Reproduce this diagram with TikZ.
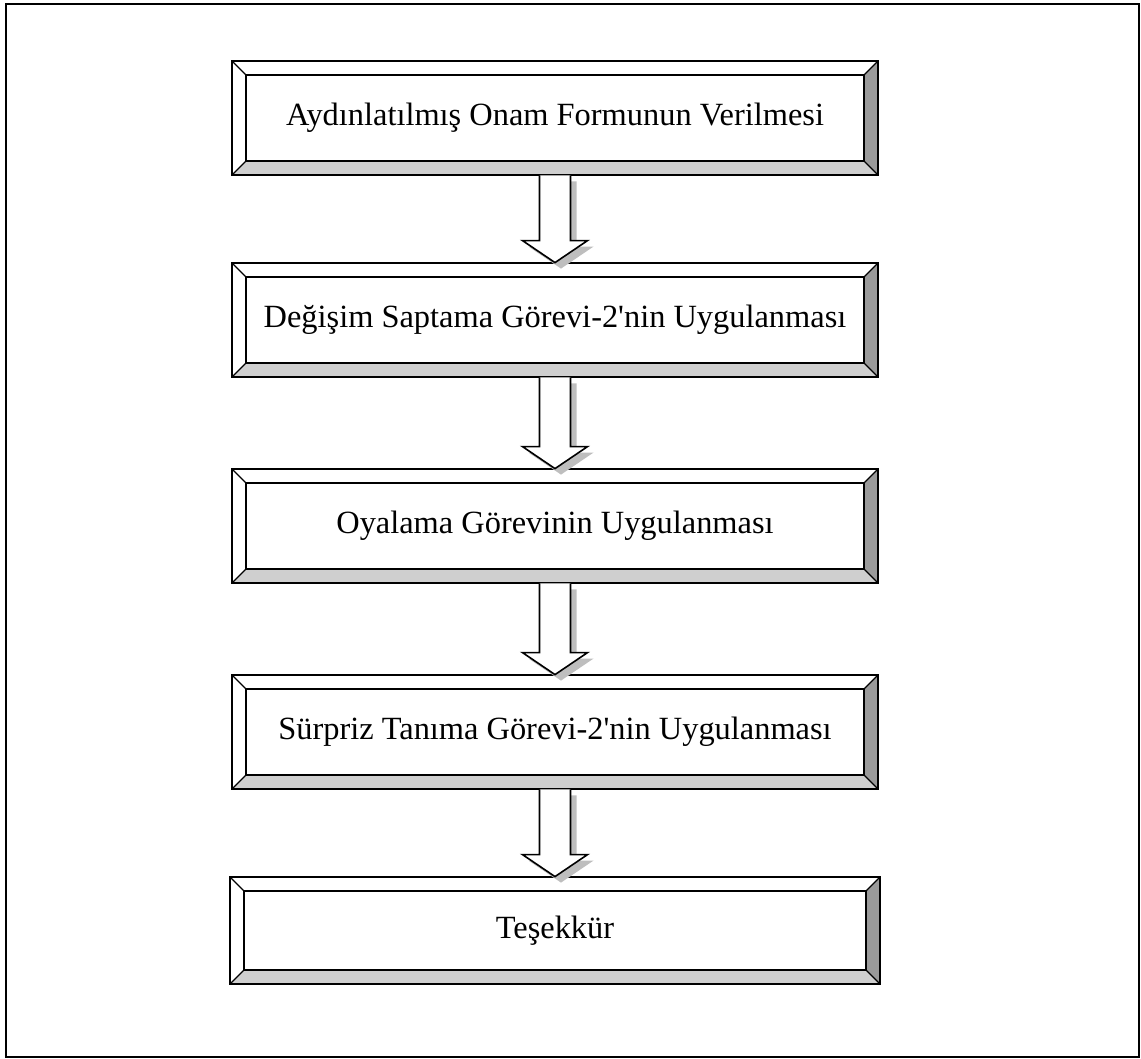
\documentclass[tikz,border=0pt]{standalone}
\usepackage{fontspec}
\setmainfont{Liberation Serif}
\usetikzlibrary{calc}
\definecolor{bevellight}{HTML}{CFCFCF}
\definecolor{beveldark}{HTML}{9A9A9A}
\definecolor{arrowshade}{HTML}{BEBEBE}
\tikzset{
  stage/.style={draw=none, minimum width=323pt, minimum height=57pt,
    inner sep=0pt, font=\fontsize{16.2}{19}\selectfont},
  rim/.style={draw=black, line width=1pt},
  facet/.style={draw=black, line width=0.6pt},
  frame/.style={draw=black, line width=1pt},
  downarrow/.style={fill=white, draw=black, line width=0.8pt, line join=miter},
  downshade/.style={fill=arrowshade, draw=none},
}
\begin{document}
\begin{tikzpicture}[x=0.5pt,y=-0.5pt]
\useasboundingbox (0,0) rectangle (1141,1059);
\draw[frame] (6,4) rectangle (1139,1057);
% five stages, one below the other
\node[stage] (s1) at (555,118) {Aydınlatılmış Onam Formunun Verilmesi};
\node[stage] (s2) at (555,320) {Değişim Saptama Görevi-2\textquotesingle nin Uygulanması};
\node[stage] (s3) at (555,526) {Oyalama Görevinin Uygulanması};
\node[stage] (s4) at (555,732) {Sürpriz Tanıma Görevi-2\textquotesingle nin Uygulanması};
\node[stage, minimum width=325pt, minimum height=53.5pt] (s5) at (555,930.5) {Teşekkür};
% bevelled frames: light bottom, dark right
\foreach \i in {1,...,5}{
  \path (s\i.north west) ++(7pt,-7pt) coordinate (s\i-nw)
        (s\i.north east) ++(-7pt,-7pt) coordinate (s\i-ne)
        (s\i.south east) ++(-7pt,7pt) coordinate (s\i-se)
        (s\i.south west) ++(7pt,7pt) coordinate (s\i-sw);
  \fill[bevellight] (s\i.south west) -- (s\i.south east) -- (s\i-se) -- (s\i-sw) -- cycle;
  \fill[beveldark] (s\i.north east) -- (s\i.south east) -- (s\i-se) -- (s\i-ne) -- cycle;
  \draw[facet] (s\i.north west) -- (s\i-nw) (s\i.north east) -- (s\i-ne)
               (s\i.south east) -- (s\i-se) (s\i.south west) -- (s\i-sw);
  \draw[rim] (s\i-nw) rectangle (s\i-se);
  \draw[rim] (s\i.north west) rectangle (s\i.south east);
}
% hollow block arrows with a soft shadow
\foreach \i/\j in {1/2,2/3,3/4,4/5}{
  \fill[downshade] let \p1=(s\i.south), \p2=(s\j.north) in
    (\x1+10.75pt,\y1-3pt) -- (\x1+10.75pt,\y2+8pt) -- (\x1+19.25pt,\y2+8pt)
    -- (\x2+3pt,\y2-3pt) -- (\x1-13.25pt,\y2+8pt) -- (\x1-4.75pt,\y2+8pt)
    -- (\x1-4.75pt,\y1-3pt) -- cycle;
  \filldraw[downarrow] let \p1=(s\i.south), \p2=(s\j.north) in
    (\x1-7.75pt,\y1) -- (\x1-7.75pt,\y2+11pt) -- (\x1-16.25pt,\y2+11pt)
    -- (\x2,\y2) -- (\x1+16.25pt,\y2+11pt) -- (\x1+7.75pt,\y2+11pt)
    -- (\x1+7.75pt,\y1);
}
\end{tikzpicture}
\end{document}
